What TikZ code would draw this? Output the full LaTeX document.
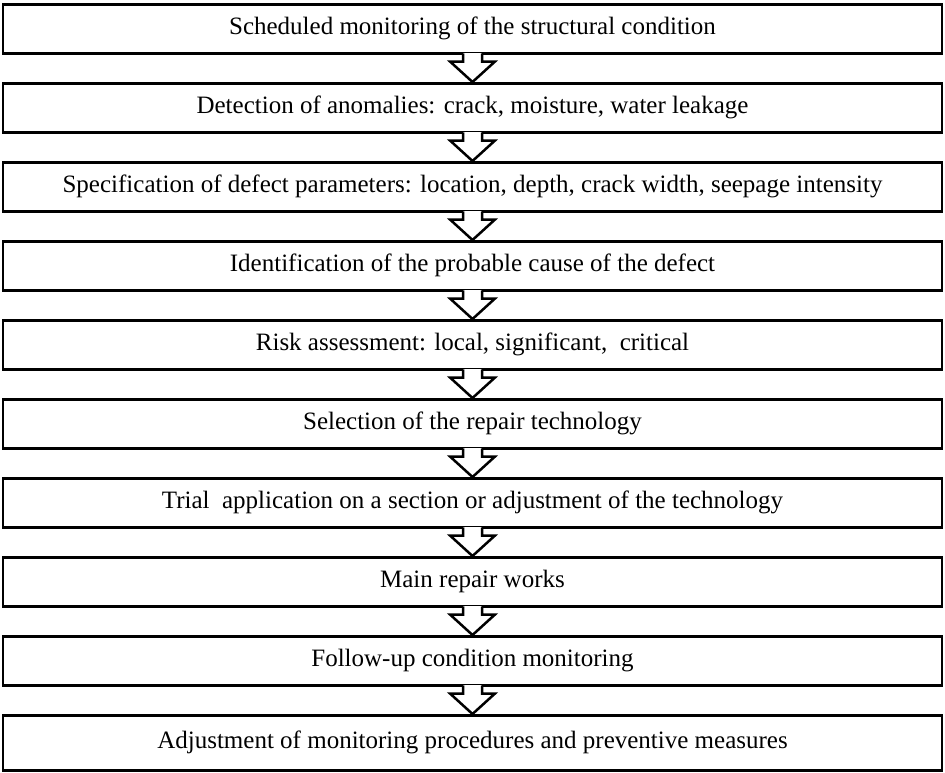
\documentclass[tikz,border=0pt]{standalone}
\usepackage{fontspec}
\setmainfont{Liberation Serif}
\usetikzlibrary{calc}
\begin{document}
\begin{tikzpicture}[x=1pt,y=-1pt,
  stepbox/.style={draw,line width=2.5pt,minimum width=939pt,minimum height=49pt,anchor=north,inner sep=0pt,font=\fontsize{25}{28}\selectfont},
  arr/.style={line width=2.5pt,line join=miter}]
\useasboundingbox[fill=white] (0,0) rectangle (945,772);
\node[stepbox] (b0) at (472.5,3) {Scheduled monitoring of the structural condition};
\node[stepbox] (b1) at (472.5,82) {Detection of anomalies: crack, moisture, water leakage};
\node[stepbox] (b2) at (472.5,161) {Specification of defect parameters: location, depth, crack width, seepage intensity};
\node[stepbox] (b3) at (472.5,240) {Identification of the probable cause of the defect};
\node[stepbox] (b4) at (472.5,319) {Risk assessment: local, significant,\ \ critical};
\node[stepbox] (b5) at (472.5,398) {Selection of the repair technology};
\node[stepbox] (b6) at (472.5,477) {Trial\ \ application on a section or adjustment of the technology};
\node[stepbox] (b7) at (472.5,556) {Main repair works};
\node[stepbox] (b8) at (472.5,635) {Follow-up condition monitoring};
\node[stepbox,minimum height=55pt] (b9) at (472.5,714) {Adjustment of monitoring procedures and preventive measures};
\foreach \a/\b in {b0/b1,b1/b2,b2/b3,b3/b4,b4/b5,b5/b6,b6/b7,b7/b8,b8/b9}{
  \fill[white] ($(\a.south)+(-9.5,-2)$) rectangle ($(\a.south)+(9.5,4)$);
  \draw[arr] ($(\a.south)+(-9.5,-1.2)$) -- ($(\a.south)+(-9.5,7)$) -- ($(\a.south)+(-22.5,7)$) -- (\b.north)
    -- ($(\a.south)+(22.5,7)$) -- ($(\a.south)+(9.5,7)$) -- ($(\a.south)+(9.5,-1.2)$);
}
\end{tikzpicture}
\end{document}
